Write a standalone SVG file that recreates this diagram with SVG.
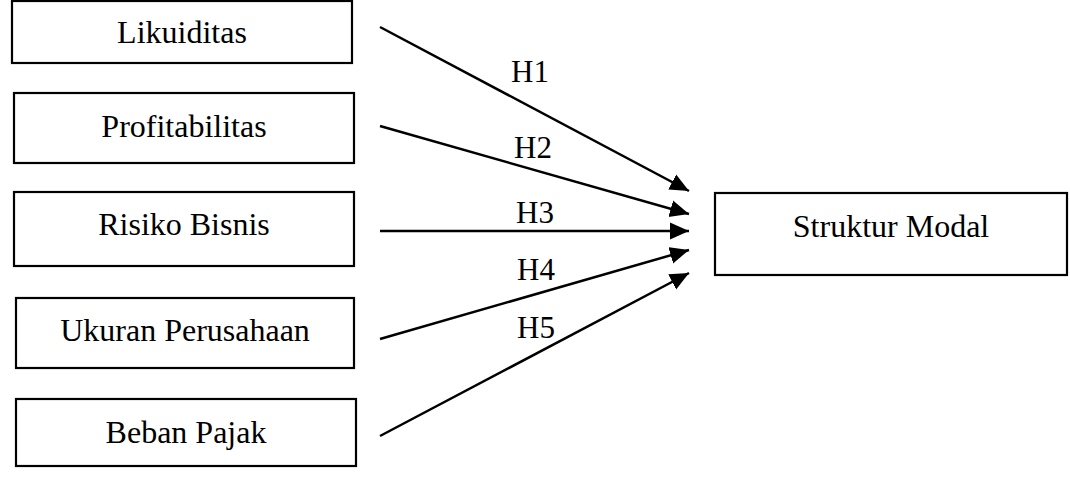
<svg xmlns="http://www.w3.org/2000/svg" width="1070" height="496" viewBox="0 0 1070 496">
<style>
.box{fill:#fff;stroke:#000;stroke-width:2.2}
.t{font-family:"Liberation Serif","Times New Roman",serif;font-size:32px;fill:#000;text-anchor:middle}
.h{font-family:"Liberation Serif","Times New Roman",serif;font-size:31px;fill:#000;text-anchor:middle}
.c{stroke:#000;stroke-width:2.5;fill:none;marker-end:url(#ah)}
</style>
<defs>
<marker id="ah" markerUnits="userSpaceOnUse" markerWidth="20" markerHeight="18" refX="19" refY="9" orient="auto" viewBox="0 0 20 18">
<path d="M0,0.5 L19,9 L0,17.5 Z" fill="#000"/>
</marker>
</defs>
<rect width="1070" height="496" fill="#fff"/>
<g id="node-likuiditas"><rect class="box" x="12" y="1" width="340" height="62"/><text class="t" x="182" y="43">Likuiditas</text></g>
<g id="node-profitabilitas"><rect class="box" x="14" y="93" width="340" height="70"/><text class="t" x="184" y="137">Profitabilitas</text></g>
<g id="node-risiko"><rect class="box" x="14" y="192" width="340" height="74"/><text class="t" x="184" y="235">Risiko Bisnis</text></g>
<g id="node-ukuran"><rect class="box" x="16" y="298" width="338" height="70"/><text class="t" x="185" y="341">Ukuran Perusahaan</text></g>
<g id="node-beban"><rect class="box" x="16" y="399" width="340" height="67"/><text class="t" x="186" y="443">Beban Pajak</text></g>
<g id="node-struktur"><rect class="box" x="715" y="193" width="352" height="82"/><text class="t" x="891" y="237">Struktur Modal</text></g>
<g id="connectors">
<line class="c" x1="380" y1="27" x2="689" y2="191"/>
<line class="c" x1="380" y1="126" x2="689" y2="214"/>
<line class="c" x1="380" y1="231" x2="689" y2="231"/>
<line class="c" x1="380" y1="339" x2="689" y2="250"/>
<line class="c" x1="380" y1="436" x2="689" y2="273"/>
<text class="h" x="530" y="82">H1</text>
<text class="h" x="533" y="158">H2</text>
<text class="h" x="535" y="223">H3</text>
<text class="h" x="536" y="280">H4</text>
<text class="h" x="536" y="338">H5</text>
</g>
</svg>
